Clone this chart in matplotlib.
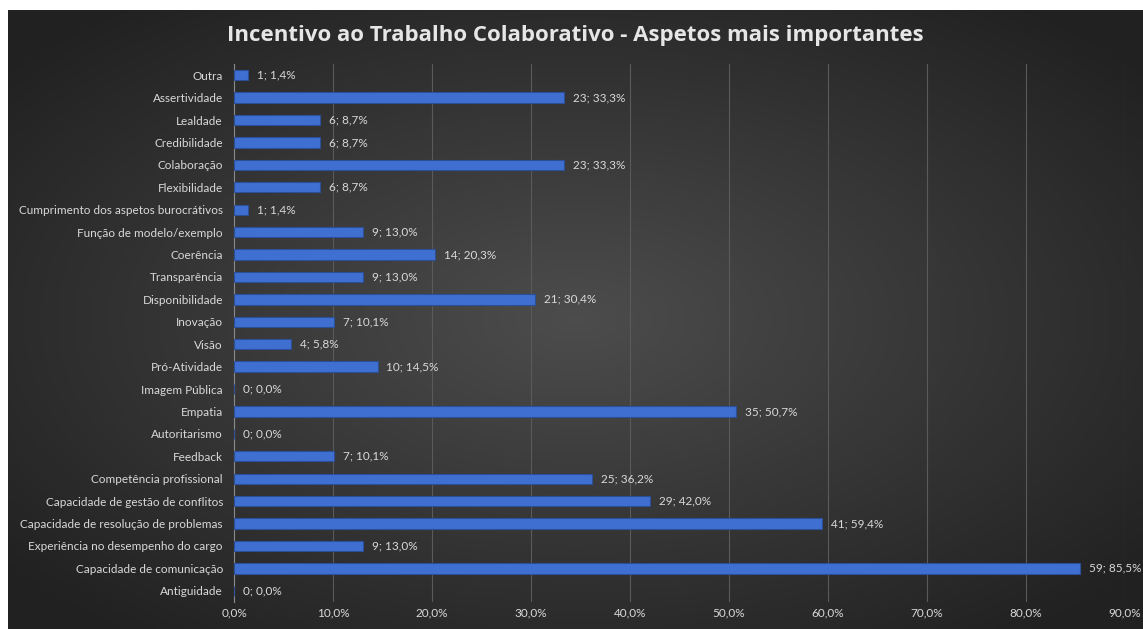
import numpy as np
import matplotlib.pyplot as plt
from matplotlib.ticker import FuncFormatter

# categories listed bottom -> top
categories = [
    "Antiguidade", "Capacidade de comunicação", "Experiência no desempenho do cargo",
    "Capacidade de resolução de problemas", "Capacidade de gestão de conflitos",
    "Competência profissional", "Feedback", "Autoritarismo", "Empatia", "Imagem Pública",
    "Pró-Atividade", "Visão", "Inovação", "Disponibilidade", "Transparência", "Coerência",
    "Função de modelo/exemplo", "Cumprimento dos aspetos burocrátivos", "Flexibilidade",
    "Colaboração", "Credibilidade", "Lealdade", "Assertividade", "Outra",
]
counts = [0, 59, 9, 41, 29, 25, 7, 0, 35, 0, 10, 4, 7, 21, 9, 14, 9, 1, 6, 23, 6, 6, 23, 1]
percents = [0.0, 85.5, 13.0, 59.4, 42.0, 36.2, 10.1, 0.0, 50.7, 0.0, 14.5, 5.8, 10.1, 30.4,
            13.0, 20.3, 13.0, 1.4, 8.7, 33.3, 8.7, 8.7, 33.3, 1.4]
title = "Incentivo ao Trabalho Colaborativo - Aspetos mais importantes"

plt.rcParams['font.family'] = ['Lato', 'DejaVu Sans']
txt_color = "#d9d9d9"

fig = plt.figure(figsize=(11.43, 6.29), dpi=100)
fig.patch.set_facecolor("white")

# dark radial background panel
bg = fig.add_axes([8 / 1143, 0, 1 - 8 / 1143, 1 - 10 / 629])
gx, gy = np.meshgrid(np.linspace(-1, 1, 400), np.linspace(-1, 1, 220))
r = np.sqrt(gx ** 2 + gy ** 2)
shade = 0.30 - 0.17 * np.clip(r / 1.3, 0, 1)
bg.imshow(np.dstack([shade] * 3), aspect="auto", extent=[0, 1, 0, 1])
bg.set_axis_off()

ax = fig.add_axes([234 / 1143, 1 - 602 / 629, (1125 - 234) / 1143, (602 - 64) / 629])
ax.patch.set_alpha(0)
y = np.arange(len(categories))
ax.barh(y, percents, height=0.46, color="#3f6fd1", edgecolor="#2b4f99", linewidth=0.8, zorder=3)

for yi, c, p in zip(y, counts, percents):
    lab = f"{c}; {p:.1f}%".replace(".", ",")
    ax.text(p + 0.9, yi, lab, va="center", ha="left", color=txt_color, fontsize=8.5, zorder=4)

ax.set_xlim(0, 90)
ax.set_ylim(-0.5, len(categories) - 0.5)
ax.set_xticks(np.arange(0, 91, 10))
ax.xaxis.set_major_formatter(FuncFormatter(lambda v, pos: f"{v:.1f}%".replace(".", ",")))
ax.set_yticks(y)
ax.set_yticklabels(categories)
ax.tick_params(axis="both", colors=txt_color, labelsize=8.5, length=0)
ax.tick_params(axis="y", pad=8)
ax.tick_params(axis="x", pad=4)
ax.grid(axis="x", color="#5a5a5a", linewidth=0.8, zorder=0)
for s in ["top", "right", "bottom"]:
    ax.spines[s].set_visible(False)
ax.spines["left"].set_color("#8a8a8a")

fig.text(575 / 1143, 1 - 35 / 629, title, ha="center", va="center", color="#e6e6e6",
         fontsize=16, fontweight="bold", family=["Open Sans", "DejaVu Sans"])

fig.savefig("out.png", dpi=100, facecolor=fig.get_facecolor())
